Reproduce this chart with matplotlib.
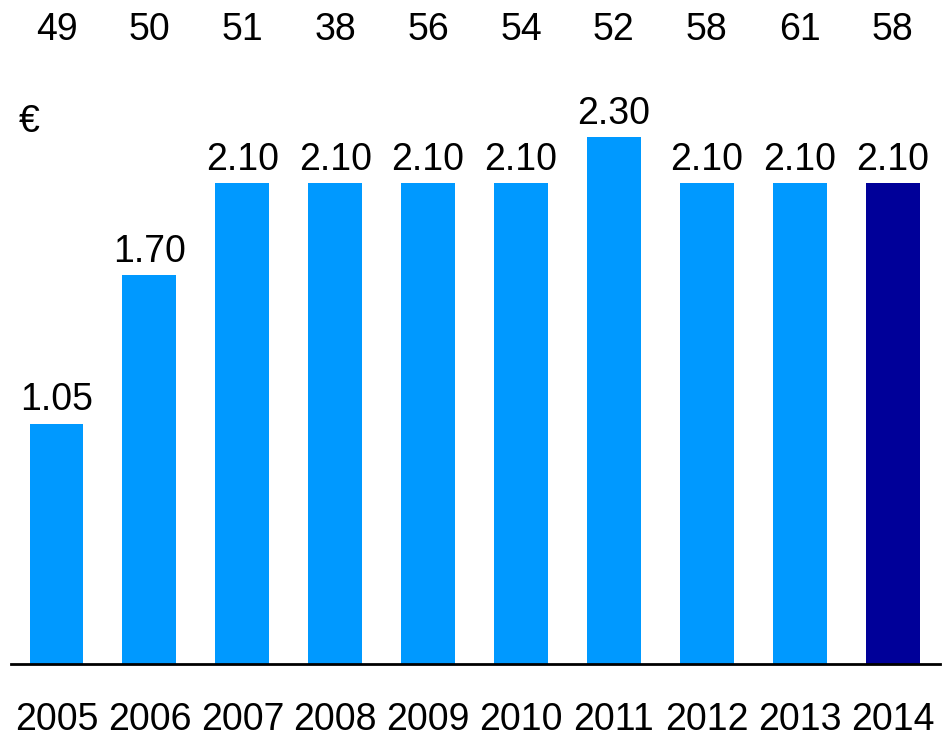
import matplotlib
matplotlib.use("Agg")
import matplotlib.pyplot as plt
import matplotlib.transforms as mtransforms
import numpy as np

years = ["2005", "2006", "2007", "2008", "2009", "2010", "2011", "2012", "2013", "2014"]
dividends = [1.05, 1.70, 2.10, 2.10, 2.10, 2.10, 2.30, 2.10, 2.10, 2.10]
payout = ["49", "50", "51", "38", "56", "54", "52", "58", "61", "58"]

light = "#0099FF"
dark = "#000099"
fs = 27

plt.rcParams["font.family"] = ["Liberation Sans", "DejaVu Sans"]

fig = plt.figure(figsize=(9.52, 7.38), dpi=100)
ax = fig.add_axes([11 / 952, 74 / 738, 929 / 952, 664 / 738])

x = np.arange(len(years))
colors = [light] * (len(years) - 1) + [dark]
ax.bar(x, dividends, width=0.58, color=colors)

ax.set_xlim(-0.49, 9.51)
ax.set_ylim(0, 2.9)
for side in ["top", "right", "left"]:
    ax.spines[side].set_visible(False)
ax.spines["bottom"].set_linewidth(2)
ax.set_yticks([])
ax.set_xticks([])

# value labels above bars
for xi, v in zip(x, dividends):
    ax.annotate(f"{v:.2f}", (xi, v), xytext=(0, 9.5), textcoords="offset points",
                ha="center", va="baseline", fontsize=fs)

# year labels below the axis
trans_x = mtransforms.blended_transform_factory(ax.transData, fig.transFigure)
for xi, y in zip(x, years):
    fig.text(xi, 1 - 730 / 738, y, transform=trans_x, ha="center", va="baseline", fontsize=fs)

# payout row at the top
for xi, p in zip(x, payout):
    fig.text(xi, 1 - 40 / 738, p, transform=trans_x, ha="center", va="baseline", fontsize=fs)

fig.text(19 / 952, 1 - 132 / 738, "€", ha="left", va="baseline", fontsize=fs)

fig.savefig("out.png", dpi=100)
